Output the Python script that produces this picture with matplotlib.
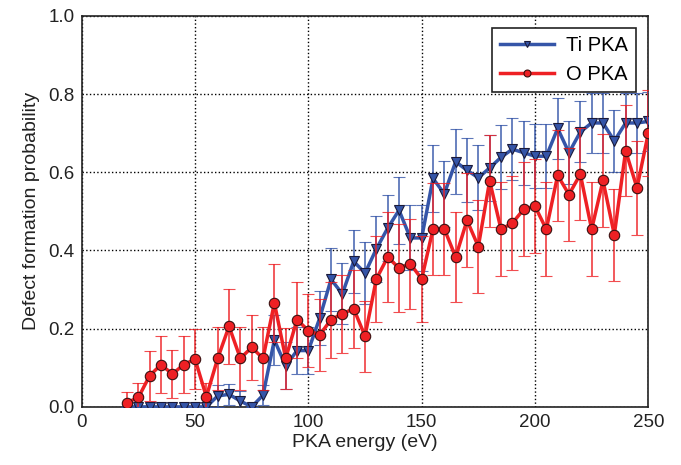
import matplotlib
matplotlib.use("Agg")
import matplotlib.pyplot as plt
from matplotlib.lines import Line2D

# PKA energies (eV)
energy = [20, 25, 30, 35, 40, 45, 50, 55, 60, 65, 70, 75, 80, 85, 90, 95,
          100, 105, 110, 115, 120, 125, 130, 135, 140, 145, 150, 155, 160,
          165, 170, 175, 180, 185, 190, 195, 200, 205, 210, 215, 220, 225,
          230, 235, 240, 245, 250]

# Ti PKA: probability and error
ti_prob = [0.0, 0.0, 0.0, 0.0, 0.0, 0.0, 0.0, 0.0, 0.028, 0.032, 0.015, 0.0,
           0.030, 0.171, 0.105, 0.144, 0.144, 0.227, 0.326, 0.289, 0.372,
           0.342, 0.404, 0.457, 0.503, 0.432, 0.432, 0.584, 0.545, 0.627,
           0.605, 0.586, 0.611, 0.638, 0.659, 0.650, 0.641, 0.641, 0.712,
           0.650, 0.703, 0.726, 0.726, 0.680, 0.726, 0.726, 0.730]
ti_err = [0.0, 0.0, 0.0, 0.0, 0.0, 0.0, 0.0, 0.0, 0.028, 0.026, 0.025, 0.0,
          0.026, 0.065, 0.060, 0.060, 0.060, 0.070, 0.080, 0.078, 0.080,
          0.080, 0.084, 0.085, 0.086, 0.083, 0.085, 0.085, 0.085, 0.083,
          0.082, 0.083, 0.085, 0.082, 0.080, 0.082, 0.082, 0.082, 0.077,
          0.080, 0.078, 0.076, 0.076, 0.080, 0.076, 0.076, 0.075]

# O PKA: probability and error
o_prob = [0.011, 0.024, 0.080, 0.108, 0.084, 0.108, 0.122, 0.026, 0.124,
          0.206, 0.124, 0.152, 0.124, 0.266, 0.124, 0.223, 0.195, 0.184,
          0.223, 0.238, 0.251, 0.181, 0.327, 0.383, 0.355, 0.366, 0.327,
          0.455, 0.455, 0.383, 0.477, 0.410, 0.578, 0.454, 0.470, 0.505,
          0.513, 0.454, 0.592, 0.543, 0.595, 0.454, 0.579, 0.440, 0.655,
          0.560, 0.700]
o_err = [0.027, 0.038, 0.064, 0.073, 0.062, 0.073, 0.076, 0.036, 0.080,
         0.096, 0.080, 0.082, 0.080, 0.100, 0.078, 0.097, 0.094, 0.091,
         0.097, 0.100, 0.100, 0.091, 0.110, 0.115, 0.113, 0.115, 0.110,
         0.118, 0.118, 0.115, 0.120, 0.118, 0.117, 0.120, 0.120, 0.120,
         0.120, 0.120, 0.117, 0.120, 0.118, 0.120, 0.120, 0.118, 0.116,
         0.120, 0.110]

BLUE = "#3555a8"
RED = "#ee2024"

plt.rcParams["font.family"] = ["Liberation Sans", "DejaVu Sans"]

fig = plt.figure(figsize=(6.81, 4.65), dpi=100)
ax = fig.add_axes([0.120, 0.125, 0.832, 0.841])

ti = ax.errorbar(energy, ti_prob, yerr=ti_err, color=BLUE, lw=2.5, marker="v",
                 ms=7, mfc=BLUE, mec="#1a1a3a", mew=0.8, ecolor=BLUE,
                 elinewidth=1.3, capsize=4, capthick=1.3, zorder=3)
oo = ax.errorbar(energy, o_prob, yerr=o_err, color=RED, lw=2.5, marker="o",
                 ms=7.5, mfc=RED, mec="#3a1010", mew=0.8, ecolor=RED,
                 elinewidth=1.3, capsize=4, capthick=1.3, zorder=4)
for eb in (ti, oo):
    for c in eb[1]:
        c.set_alpha(0.8)
    for c in eb[2]:
        c.set_alpha(0.8)

ax.set_xlim(0, 250)
ax.set_ylim(0, 1.0)
ax.set_xticks([0, 50, 100, 150, 200, 250])
ax.set_yticks([0.0, 0.2, 0.4, 0.6, 0.8, 1.0])
ax.set_yticklabels(["0.0", "0.2", "0.4", "0.6", "0.8", "1.0"])
ax.tick_params(length=0, labelsize=13.5, pad=5, colors="#222222")
ax.grid(True, color="black", ls=":", lw=1.0)
for s in ax.spines.values():
    s.set_linewidth(1.2)
    s.set_color("#222222")

ax.set_xlabel("PKA energy (eV)", fontsize=14, color="#222222", labelpad=2)
ax.set_ylabel("Defect formation probability", fontsize=14, color="#222222",
              labelpad=6)

# legend shows line + small marker only
handles = [
    Line2D([], [], color=BLUE, lw=2.5, marker="v", ms=5, mfc=BLUE,
           mec="#1a1a3a", mew=0.8),
    Line2D([], [], color=RED, lw=2.5, marker="o", ms=5, mfc=RED,
           mec="#3a1010", mew=0.8),
]
leg = ax.legend(handles, ["Ti PKA", "O PKA"], loc="upper right", fontsize=14.5,
                fancybox=False, framealpha=1, edgecolor="#222222",
                handlelength=2.7, labelspacing=0.5, borderpad=0.4,
                handletextpad=0.6, borderaxespad=0.6)
leg.get_frame().set_linewidth(1.2)

fig.savefig("out.png", dpi=100)
